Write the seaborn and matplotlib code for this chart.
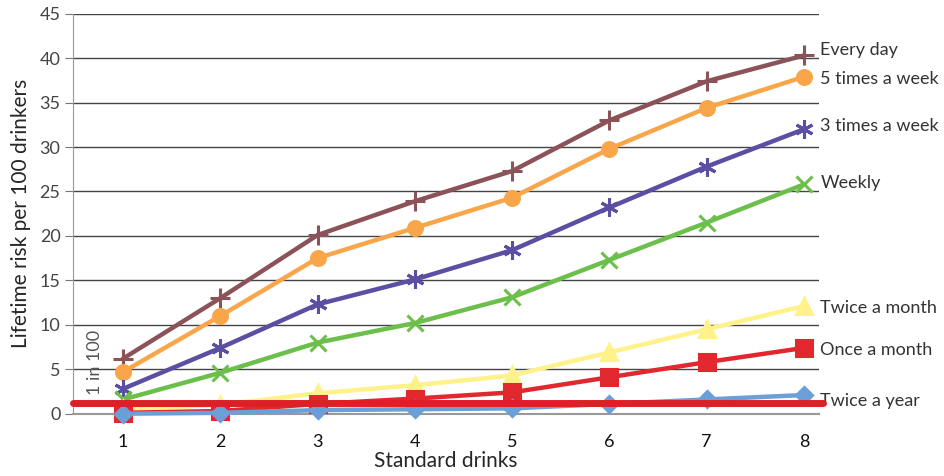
import numpy as np
import pandas as pd
import seaborn as sns
import matplotlib.pyplot as plt

drinks = [1, 2, 3, 4, 5, 6, 7, 8]

every_day = [6.2, 13.0, 20.1, 23.9, 27.3, 33.0, 37.4, 40.3]
five_week = [4.7, 11.0, 17.5, 20.9, 24.3, 29.8, 34.4, 37.9]
three_week = [2.8, 7.4, 12.3, 15.1, 18.4, 23.2, 27.8, 32.0]
weekly = [1.6, 4.6, 8.0, 10.2, 13.1, 17.3, 21.5, 25.8]
twice_month = [0.5, 1.0, 2.3, 3.2, 4.3, 6.9, 9.5, 12.1]
once_month = [0.1, 0.3, 1.1, 1.7, 2.4, 4.1, 5.8, 7.4]
twice_year = [0.0, 0.1, 0.4, 0.5, 0.6, 1.1, 1.6, 2.1]

one_in_100 = 1.2

series = ['Every day', '5 times a week', '3 times a week', 'Weekly',
          'Twice a month', 'Once a month', 'Twice a year']
values = [every_day, five_week, three_week, weekly,
          twice_month, once_month, twice_year]
label_y = [40.9, 37.7, 32.4, 26.0, 11.9, 7.2, 1.4]

colors = ['#8b5359', '#f9a64a', '#5a4fa3', '#6bbf4a', '#fff28a', '#e0282e', '#6a9fd8']
markers = ['+', 'o', (6, 2, 0), 'x', '^', 's', 'D']
msizes = [15, 10, 13, 12, 12, 11, 8]

sns.set_style('white')
plt.rcParams['font.family'] = ['Lato', 'DejaVu Sans']

fig = plt.figure(figsize=(9.44, 4.76), dpi=100)
ax = fig.add_axes([0.0773, 0.1309, 0.7903, 0.8403])

for name, vals, c, m, ms in zip(series, values, colors, markers, msizes):
    df = pd.DataFrame({'drinks': drinks, 'risk': vals})
    sns.lineplot(data=df, x='drinks', y='risk', ax=ax, color=c, lw=3.2,
                 marker=m, markersize=ms, markeredgewidth=2.2,
                 markeredgecolor=c, clip_on=False, zorder=3)

ax.axhline(one_in_100, color='#dd1f26', lw=5, zorder=4, xmin=0, xmax=1.005, clip_on=False)
ax.text(0.71, 5.8, '1 in 100', rotation=90, ha='center', va='center',
        fontsize=13, color='#555555')

for name, y in zip(series, label_y):
    ax.text(8.17, y, name, ha='left', va='center', fontsize=13, color='#333333')

ax.set_xlim(0.485, 8.155)
ax.set_ylim(0, 45)
ax.set_xticks(drinks)
ax.set_yticks(np.arange(0, 46, 5))
ax.yaxis.grid(True, color='#444444', lw=1)
ax.set_axisbelow(True)
for s in ['top', 'right']:
    ax.spines[s].set_visible(False)
ax.spines['left'].set_color('#999999')
ax.spines['bottom'].set_color('#999999')
ax.spines['bottom'].set_linewidth(1.5)
ax.tick_params(axis='y', left=True, length=6, color='#777777', labelsize=13,
               labelcolor='#444444', pad=3)
ax.tick_params(axis='x', bottom=False, labelsize=13, labelcolor='#111111', pad=11)
ax.set_xlabel('Standard drinks', fontsize=15, labelpad=1)
ax.set_ylabel('Lifetime risk per 100 drinkers', fontsize=15, labelpad=6)

fig.savefig('out.png', dpi=100)
